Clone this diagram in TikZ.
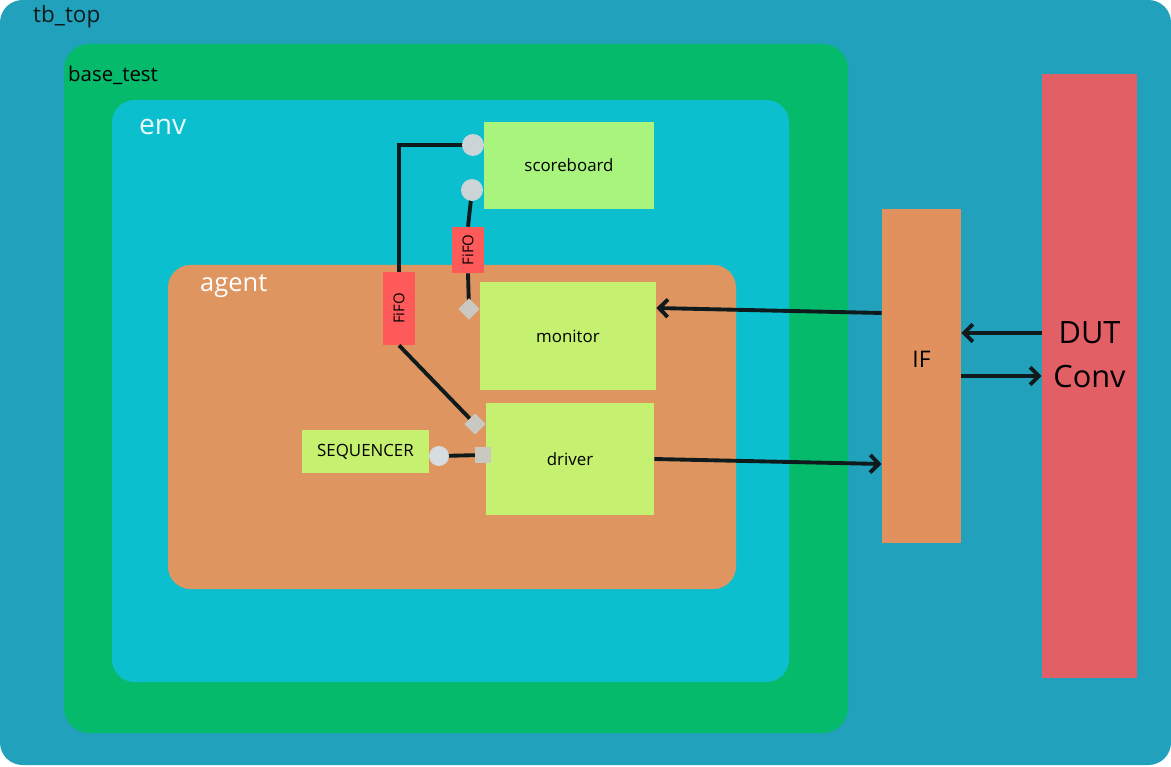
\documentclass[tikz,border=0pt]{standalone}
\usepackage{fontspec}
\usepackage{graphicx}
\setmainfont{Open Sans}
\usetikzlibrary{arrows.meta}
\definecolor{tbblue}{HTML}{21A1BB}
\definecolor{testgreen}{HTML}{06BA6C}
\definecolor{envcyan}{HTML}{0BBFCF}
\definecolor{agentorange}{HTML}{DF955F}
\definecolor{sblime}{HTML}{A8F47C}
\definecolor{complime}{HTML}{C6F06F}
\definecolor{iforange}{HTML}{E0915E}
\definecolor{dutred}{HTML}{E25F66}
\definecolor{fifored}{HTML}{FF5A5A}
\definecolor{portgrey}{HTML}{CBD5D8}
\definecolor{wirecol}{HTML}{0F1A1C}
\tikzset{
  comp/.style={inner sep=0pt, font=\fontsize{9.6}{11}\selectfont},
  fifobox/.style={fill=fifored, inner sep=0pt, minimum width=0.64cm, font=\fontsize{8.5}{9}\selectfont},
  port/.style={circle, fill=portgrey, inner sep=0pt, minimum size=0.44cm},
  pin/.style={fill=portgrey!85!brown, inner sep=0pt, minimum size=0.3cm, rotate=45},
  wire/.style={draw=wirecol, line width=2.2pt},
  arr/.style={wire, -{Straight Barb[length=5pt,width=10pt]}}
}
\begin{document}
\begin{tikzpicture}[x=0.02cm,y=-0.02cm]
\useasboundingbox (0,0) rectangle (1171,767);
\fill [white] (0,0) rectangle (1171,767);

\fill [tbblue,rounded corners=0.45cm] (0,0) rectangle (1171,765);
\fill [testgreen,rounded corners=0.5cm] (64,44) rectangle (848,733);
\fill [envcyan,rounded corners=0.45cm] (112,100) rectangle (789,682);
\fill [agentorange,rounded corners=0.45cm] (168,265) rectangle (736,589);

\node (tbtop) at (27,17) [anchor=west,text=wirecol,font=\fontsize{12.8}{14}\selectfont] {tb\_top};
\node (basetest) at (62,75) [anchor=west,font=\fontsize{11.6}{13}\selectfont] {base\_test};
\node (envlbl) at (133,127) [anchor=west,text=white!92!cyan,font=\fontsize{16}{18}\selectfont] {env};
\node (agentlbl) at (194,286) [anchor=west,text=white,font=\fontsize{14.5}{16}\selectfont] {agent};

\node (sb) at (569,165.5) [comp,fill=sblime,minimum width=3.4cm,minimum height=1.74cm] {scoreboard};
\node (mon) at (568,336) [comp,fill=complime,minimum width=3.52cm,minimum height=2.16cm] {monitor};
\node (drv) at (570,459) [comp,fill=complime,minimum width=3.36cm,minimum height=2.24cm] {driver};
\node (seqr) at (365.5,451.5) [comp,fill=complime,minimum width=2.54cm,minimum height=0.86cm] {SEQUENCER};
\node (ifb) at (921.5,376) [comp,fill=iforange,minimum width=1.58cm,minimum height=6.68cm] {};
\node (iflbl) at (921.5,359) [font=\fontsize{13}{14}\selectfont] {IF};
\node (dut) at (1089.5,376) [comp,fill=dutred,minimum width=1.9cm,minimum height=12.08cm] {};
\node (dutlbl) at (1089.5,355) [align=center,font=\fontsize{17.5}{25}\selectfont] {DUT\\Conv};

\node (fifoL) at (399,308.5) [fifobox,minimum height=1.46cm] {\rotatebox{90}{FiFO}};
\node (fifoR) at (468,250) [fifobox,minimum height=0.92cm] {\rotatebox{90}{FiFO}};

\draw [wire] (473,145) -| (fifoL.north);
\draw [wire] (472,190) -- (fifoR.north);
\draw [wire] (fifoR.south) -- (469,309);
\draw [wire] (fifoL.south) -- (475,424);
\draw [wire] (439,456) -- (483,455);

\node (sbexp) at (473,145) [port] {};
\node (sbimp) at (472,190) [port] {};
\node (monap) at (469,309) [pin] {};
\node (drvap) at (475,424) [pin] {};
\node (seqexp) at (439,456) [port,minimum size=0.4cm,fill=portgrey!80!white] {};
\node (drvimp) at (483,455) [fill=portgrey!85!brown,inner sep=0pt,minimum size=0.32cm] {};

\draw [arr] (ifb.west |- 0,313) -- (mon.east |- 0,308);
\draw [arr] (drv.east) -- (ifb.west |- 0,464);
\draw [arr] (dut.west |- 0,333) -- (ifb.east |- 0,333);
\draw [arr] (ifb.east) -- (dut.west);

\end{tikzpicture}
\end{document}
